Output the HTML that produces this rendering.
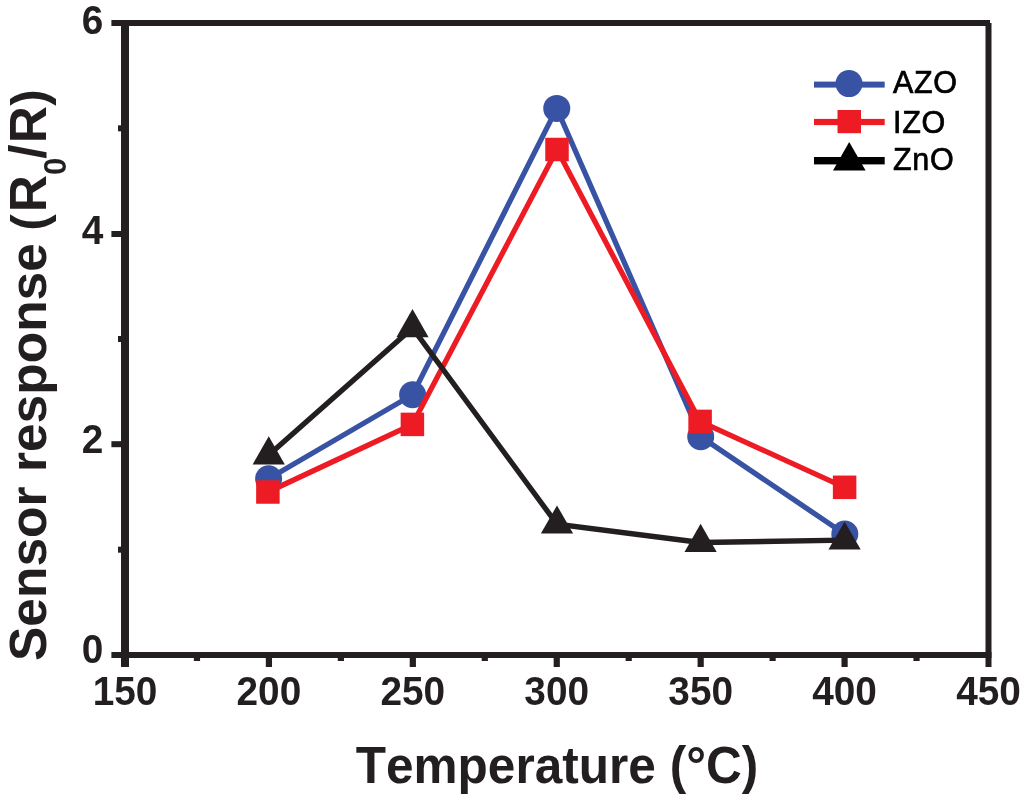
<!DOCTYPE html>
<html lang="en"><head><meta charset="utf-8"><title>Sensor response vs Temperature</title>
<style>
html,body{margin:0;padding:0;background:#fff;}
body{width:1024px;height:805px;overflow:hidden;}
svg{display:block;}
text{font-family:"Liberation Sans",Arial,Helvetica,sans-serif;fill:#231f20;}
.b{font-weight:bold;}
</style></head><body>
<svg width="1024" height="805" viewBox="0 0 1024 805">
<rect width="1024" height="805" fill="#fff"/>
<g fill="#231f20">
<rect x="111.4" y="20" width="878.6" height="6"/>
<rect x="111.4" y="652" width="880.1" height="6"/>
<rect x="121" y="20" width="8" height="647"/>
<rect x="985.5" y="23" width="6" height="644"/>
<rect x="265.82" y="655" width="6.2" height="12"/>
<rect x="409.73" y="655" width="6.2" height="12"/>
<rect x="553.65" y="655" width="6.2" height="12"/>
<rect x="697.57" y="655" width="6.2" height="12"/>
<rect x="841.48" y="655" width="6.2" height="12"/>
<rect x="193.86" y="655" width="6.2" height="6"/>
<rect x="337.77" y="655" width="6.2" height="6"/>
<rect x="481.69" y="655" width="6.2" height="6"/>
<rect x="625.61" y="655" width="6.2" height="6"/>
<rect x="769.52" y="655" width="6.2" height="6"/>
<rect x="913.44" y="655" width="6.2" height="6"/>
<rect x="111.4" y="441.20" width="12" height="6"/>
<rect x="111.4" y="231.00" width="12" height="6"/>
<rect x="118" y="546.67" width="5" height="6"/>
<rect x="118" y="336.00" width="5" height="6"/>
<rect x="118" y="125.33" width="5" height="6"/>
</g>
<g fill="none" stroke-width="5.3" stroke-linejoin="miter">
<polyline stroke="#3953a4" points="268.60,478.75 412.60,394.70 556.75,108.40 700.70,436.75 844.80,534.10"/>
</g>
<g fill="#3953a4"><circle cx="268.60" cy="478.75" r="13.5"/><circle cx="412.60" cy="394.70" r="13.5"/><circle cx="556.75" cy="108.40" r="13.5"/><circle cx="700.70" cy="436.75" r="13.5"/><circle cx="844.80" cy="534.10" r="13.5"/></g>
<polyline fill="none" stroke-width="5.3" stroke="#ed1c24" points="267.90,492.00 412.40,424.40 557.00,149.50 700.10,421.40 844.60,487.30"/>
<g fill="#ed1c24"><rect x="256.15" y="480.25" width="23.5" height="23.5"/><rect x="400.65" y="412.65" width="23.5" height="23.5"/><rect x="545.25" y="137.75" width="23.5" height="23.5"/><rect x="688.35" y="409.65" width="23.5" height="23.5"/><rect x="832.85" y="475.55" width="23.5" height="23.5"/></g>
<polyline fill="none" stroke-width="5.3" stroke="#231f20" points="268.75,455.00 412.50,327.90 557.00,524.20 700.60,542.50 844.60,540.20"/>
<g fill="#231f20"><polygon points="252.65,464.40 284.85,464.40 268.75,436.20"/><polygon points="396.40,337.30 428.60,337.30 412.50,309.10"/><polygon points="540.90,533.60 573.10,533.60 557.00,505.40"/><polygon points="684.50,551.90 716.70,551.90 700.60,523.70"/><polygon points="828.50,549.60 860.70,549.60 844.60,521.40"/></g>
<rect x="814" y="81.6" width="70.7" height="6" fill="#3953a4"/><circle cx="849" cy="83.6" r="13.5" fill="#3953a4"/>
<rect x="814" y="118.9" width="70.7" height="6.2" fill="#ed1c24"/><rect x="837.5" y="110" width="23.5" height="23.2" fill="#ed1c24"/>
<rect x="814" y="157" width="70.7" height="7.4" fill="#000"/><polygon points="833,170.5 865.6,170.5 849.2,142" fill="#000"/>
<g font-size="30.5" stroke="#000" stroke-width="0.7" letter-spacing="0.7">
<text x="893" y="93.3" style="fill:#000">AZO</text>
<text x="893" y="132.5" style="fill:#000">IZO</text>
<text x="893" y="170.3" style="fill:#000">ZnO</text>
</g>
<g class="b" font-size="40.2" text-anchor="middle" transform="scale(0.965,1)">
<text x="129.53" y="705.2">150</text>
<text x="278.67" y="705.2">200</text>
<text x="427.81" y="705.2">250</text>
<text x="576.94" y="705.2">300</text>
<text x="726.08" y="705.2">350</text>
<text x="875.22" y="705.2">400</text>
<text x="1024.35" y="705.2">450</text>
</g>
<g class="b" font-size="40.2" text-anchor="end" transform="scale(0.965,1)">
<text x="107.15" y="663.5">0</text>
<text x="107.15" y="453.3">2</text>
<text x="107.15" y="244.4">4</text>
<text x="107.15" y="33.6">6</text>
</g>
<text class="b" font-size="51.5" x="355.7" y="783" style="font-kerning:none" textLength="402.6" lengthAdjust="spacingAndGlyphs">Temperature (°C)</text>
<text class="b" font-size="51.5" transform="translate(45.5,661) rotate(-90)">Sensor response <tspan dx="-2" font-size="49.5">(</tspan><tspan dx="2.2">R</tspan><tspan font-size="31" dy="20.6">0</tspan><tspan dy="-20.6" dx="-1">/</tspan><tspan dx="1">R</tspan><tspan font-size="49.5" dx="0.5">)</tspan></text>
</svg></body></html>
